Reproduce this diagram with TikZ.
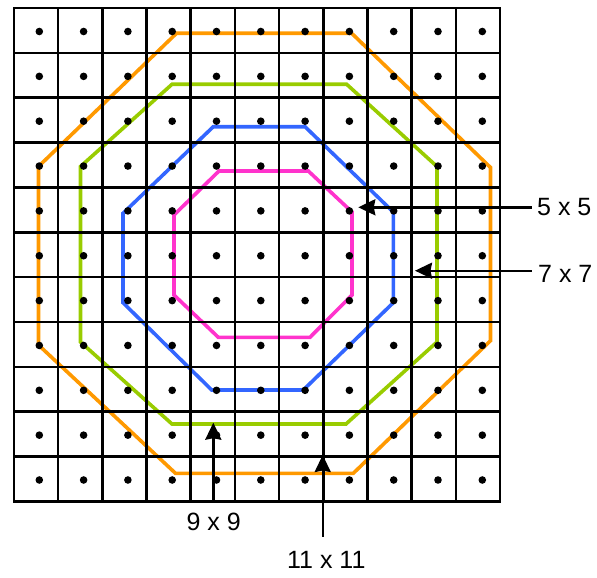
\documentclass[tikz,border=0pt]{standalone}
\usepackage{fontspec}
\setmainfont{Liberation Sans}
\usetikzlibrary{arrows.meta}
\definecolor{octorange}{RGB}{255,153,0}
\definecolor{octgreen}{RGB}{153,204,0}
\definecolor{octblue}{RGB}{51,102,255}
\definecolor{octpink}{RGB}{255,51,204}
\begin{document}
\begin{tikzpicture}[x=1pt,y=-1pt,
  gridline/.style={line width=2.6pt, line cap=rect},
  octline/.style={line width=3.6pt, line join=miter},
  arrowline/.style={line width=2.4pt, -{Stealth[length=17pt,width=16pt,inset=1.5pt]}},
  lbl/.style={inner sep=0pt, font=\fontsize{25}{29}\selectfont}]
\useasboundingbox (0,0) rectangle (597,578);
% octagons
\draw[octline, octorange] (176.5,33.3) -- (351.7,33.3) -- (490.5,167.5) -- (490.5,340.7) -- (353.3,473.3) -- (175.5,473.3) -- (38.5,345) -- (38.5,166.5) -- cycle;
\draw[octline, octgreen] (172,84.3) -- (346.7,84.3) -- (437,166.5) -- (437,342) -- (346,424) -- (172,424) -- (80.5,342) -- (80.5,166.5) -- cycle;
\draw[octline, octblue] (213.3,126.7) -- (305,126.7) -- (393.3,212) -- (393.3,302.7) -- (303.3,390) -- (211.7,390) -- (123,302.7) -- (123,213.3) -- cycle;
\draw[octline, octpink] (219,171) -- (308.3,171) -- (352,212) -- (352,295) -- (310,337.3) -- (218.3,337.3) -- (174,295) -- (174,215) -- cycle;
% grid
\foreach \i in {0,...,11} {
  \draw[gridline] ({14+44.18*\i},8) -- ({14+44.18*\i},501.5);
  \draw[gridline] (14,{8+44.86*\i}) -- (500,{8+44.86*\i});
}
% dots
\foreach \i in {0,...,10} {
  \foreach \j in {0,...,10} {
    \fill ({39.3+44.3*\i},{31.5+44.85*\j}) circle (3.8pt);
  }
}
% labels and arrows
\node[lbl, anchor=west] (l5) at (537,207) {5 x 5};
\node[lbl, anchor=west] (l7) at (538,274) {7 x 7};
\node[lbl] (l9) at (213.7,521.5) {9 x 9};
\node[lbl] (l11) at (326.3,559.5) {11 x 11};
\coordinate (s5) at (531.7,207.3);
\coordinate (t5) at (358.3,207.3);
\coordinate (s7) at (531.7,270.7);
\coordinate (t7) at (415,270.7);
\coordinate (s9) at (213.3,500);
\coordinate (t9) at (213.3,422.7);
\coordinate (s11) at (322.7,536.7);
\coordinate (t11) at (322.7,455);
\draw[arrowline] (s5) -- (t5);
\draw[arrowline] (s7) -- (t7);
\draw[arrowline] (s9) -- (t9);
\draw[arrowline] (s11) -- (t11);
\end{tikzpicture}
\end{document}
